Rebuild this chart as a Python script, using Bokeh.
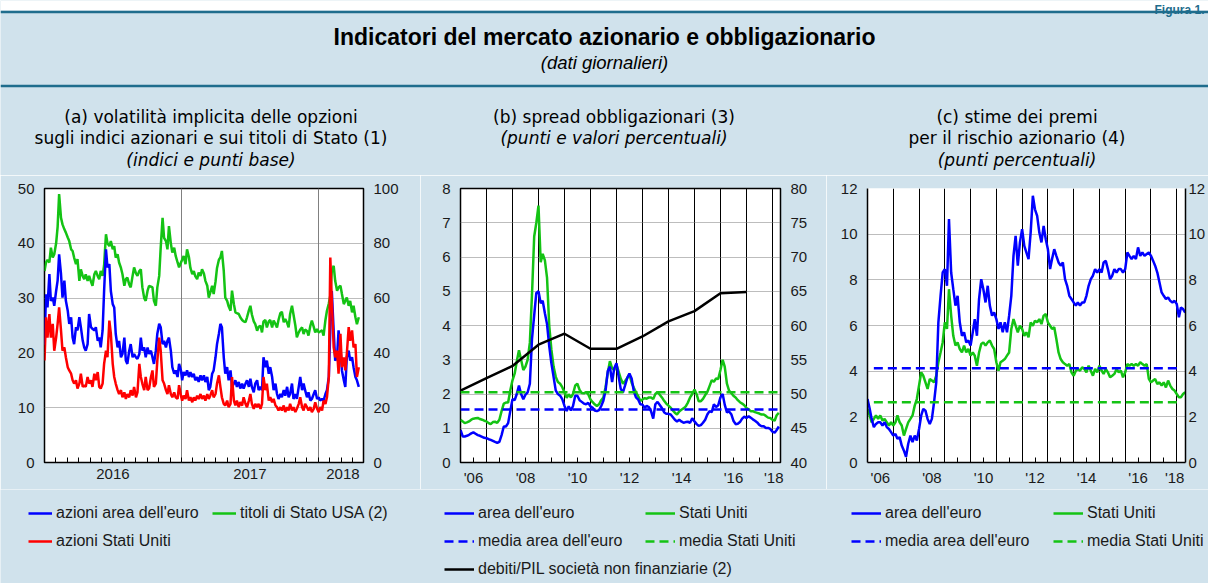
import numpy as np
import pandas as pd
from bokeh.plotting import figure
from bokeh.models import Range1d, LinearAxis, FixedTicker, Legend, LegendItem
from bokeh.layouts import column, row
from bokeh.embed import file_html
from bokeh.resources import INLINE
from bokeh.core.properties import value

# ------------------------------------------------------------------ DATA
# (a) implied volatility, Jan 2016 - Apr 2018 (regular observation grid)
a_first_day, a_last_day = "2016-01-01", "2018-04-19"
a_us_treasuries = [  # MOVE-type index, basis points (right axis)
    69.9, 73, 74, 73, 78.4, 74.8, 76, 80, 86, 98,
    89.3, 86.9, 85.1, 83.9, 82.1, 80.8, 77.8, 77.2, 74.8, 72.4,
    74.2, 66.3, 70.5, 68, 66.9, 68.7, 66.3, 68.1, 66, 64.5,
    68.7, 69.9, 68, 66.9, 69.9, 68.1, 72, 83.3, 80, 79,
    80.8, 77.8, 79, 74.8, 76, 73, 71, 68.7, 64.5, 66.9,
    67.5, 65, 63.9, 68.1, 71.2, 69, 68.1, 69.9, 70.5, 64,
    60, 59, 62.7, 64.5, 64.2, 63.9, 59, 57.2, 63.9, 68.1,
    78.4, 89.3, 82, 80.8, 77.8, 86.3, 80, 76.6, 78.4, 75.4,
    73, 71.2, 73, 74, 75.4, 72.4, 77.8, 75, 71, 68.7,
    69.9, 68, 66.9, 69.3, 68.1, 70.5, 69, 66.3, 64.5, 60.2,
    62, 64.5, 61.5, 66, 71, 74, 74.8, 77.2, 69.9, 60.2,
    59, 57, 55.4, 62.7, 57.8, 54.8, 54.5, 54.2, 53, 52,
    51.5, 51.2, 53, 55.5, 57.2, 54, 51.5, 50.5, 48.1, 49.5,
    49.9, 47.5, 51.5, 52, 49.3, 51.5, 52, 49.3, 51.8, 50.5,
    49.3, 52, 54.5, 55, 51.2, 52.4, 51, 49.3, 54.2, 57.2,
    54, 50, 45.7, 47.5, 48.5, 49.3, 46.9, 48.5, 48, 46.3,
    49.9, 51.8, 49.5, 47.5, 48.7, 47.5, 47.8, 48.2, 46.3, 52,
    55.4, 58, 61, 69.9, 71.8, 66.3, 62.7, 63.9, 64.5, 61.5,
    57.8, 59, 60.2, 57.2, 59, 54.8, 57.2, 53, 50.5, 53]
a_euro_stocks = [
    21.5, 30.7, 28.3, 34.4, 29.5, 30.1, 28.6, 31.3, 33.2, 38.0,
    34.4, 30.1, 33.2, 29.5, 27.7, 25.3, 26.5, 22.8, 21.6, 24.7,
    24.1, 26.5, 24.7, 22.2, 21.0, 20.4, 21.6, 27.1, 24.7, 24.4,
    24.1, 24.7, 22.2, 22.8, 21.0, 24.1, 31.3, 38.9, 35.6, 36.2,
    31.3, 28.9, 28.3, 23.5, 21.0, 22.2, 19.2, 19.8, 22.8, 18.6,
    18.0, 20.4, 21.6, 19.2, 19.8, 19.2, 18.9, 19.8, 22.8, 20.4,
    21.0, 19.2, 21.0, 19.8, 20.4, 19.2, 18.0, 20.4, 23.5, 25.3,
    24.7, 21.6, 22.2, 21.0, 22.2, 22.8, 20.4, 17.4, 16.2, 16.8,
    15.6, 18.0, 16.8, 15.0, 16.5, 15.9, 16.8, 15.6, 16.5, 15.6,
    16.2, 15.0, 15.6, 14.7, 15.9, 15.0, 15.9, 14.7, 15.6, 13.2,
    13.8, 16.2, 16.8, 19.2, 21.6, 23.5, 25.3, 24.7, 19.2, 16.2,
    17.4, 15.0, 16.8, 13.8, 14.4, 15.0, 13.8, 14.7, 13.5, 14.4,
    13.5, 14.4, 15.0, 13.8, 15.3, 13.8, 12.8, 14.4, 15.0, 13.2,
    13.8, 13.2, 19.2, 17.4, 18.6, 16.2, 17.4, 15.6, 13.2, 14.4,
    12.5, 11.6, 12.5, 11.9, 13.2, 12.2, 13.8, 11.9, 12.5, 14.4,
    11.6, 12.5, 11.6, 13.8, 15.6, 13.2, 14.4, 13.2, 11.9, 12.8,
    11.3, 11.6, 12.5, 13.2, 11.6, 11.9, 11.3, 11.6, 11.3, 12.5,
    13.2, 15.6, 24.1, 31.3, 24.0, 18.6, 19.2, 24.1, 21.0, 16.8,
    15.0, 13.8, 19.2, 20.4, 18.6, 19.2, 17.4, 15.6, 15.0, 13.8]
a_us_stocks = [
    18.6, 26.5, 22.8, 27.1, 22.8, 25.3, 20.4, 22.8, 25.3, 28.3,
    24.1, 20.4, 21.0, 19.2, 17.4, 16.8, 16.2, 15.0, 14.4, 15.0,
    13.5, 14.4, 16.2, 13.8, 14.1, 13.8, 15.6, 14.4, 15.0, 13.8,
    16.2, 15.0, 16.5, 13.8, 13.5, 14.4, 18.0, 20.4, 19.2, 25.9,
    23.5, 18.0, 15.6, 14.4, 13.2, 12.5, 13.2, 11.9, 12.8, 11.6,
    12.5, 11.9, 13.2, 12.2, 13.8, 11.9, 12.8, 18.0, 15.6, 14.4,
    13.2, 15.6, 13.2, 13.5, 15.6, 16.8, 13.8, 14.4, 18.6, 22.8,
    20.4, 15.0, 14.4, 13.2, 12.5, 14.1, 12.5, 11.9, 12.8, 11.9,
    11.6, 14.1, 12.2, 11.3, 12.2, 11.6, 13.2, 11.3, 11.9, 11.0,
    11.9, 11.3, 12.2, 11.6, 12.5, 11.6, 12.2, 11.3, 12.5, 11.6,
    12.2, 13.2, 11.9, 12.5, 14.4, 15.9, 13.8, 11.9, 10.7, 10.4,
    11.3, 10.1, 10.7, 15.6, 11.3, 10.4, 11.3, 10.1, 11.0, 10.4,
    11.9, 10.7, 10.1, 11.3, 12.5, 10.7, 9.8, 10.7, 10.1, 10.7,
    9.8, 10.7, 15.6, 13.2, 14.4, 11.3, 11.9, 11.0, 11.6, 10.4,
    10.1, 9.5, 10.1, 9.5, 10.4, 9.2, 10.1, 9.5, 10.7, 9.5,
    10.1, 9.2, 9.8, 10.7, 11.9, 10.1, 9.5, 10.7, 10.1, 9.5,
    10.1, 9.2, 9.8, 11.0, 9.8, 9.2, 10.1, 9.5, 11.3, 10.7,
    11.9, 15.6, 37.4, 29.5, 21.0, 19.2, 20.4, 16.2, 23.5, 17.4,
    19.2, 16.8, 19.8, 24.7, 22.2, 24.1, 21.0, 21.6, 15.6, 17.4]

# (b) bond spreads, monthly from Jan 2006
b_first_month = "2006-01-01"
b_euro = [
    0.95, 0.76, 0.76, 0.78, 0.81, 0.85, 0.88, 0.84, 0.80, 0.78,
    0.75, 0.72, 0.71, 0.68, 0.66, 0.63, 0.60, 0.57, 0.60, 0.80,
    1.05, 1.05, 1.15, 1.50, 1.85, 1.82, 2.00, 2.25, 2.00, 1.85,
    1.98, 2.05, 2.30, 3.60, 4.30, 4.95, 5.00, 4.65, 4.72, 4.36,
    4.04, 3.40, 2.90, 2.50, 2.10, 2.00, 1.95, 1.85, 1.65, 1.50,
    1.64, 1.52, 1.65, 1.95, 1.95, 1.82, 1.77, 1.72, 1.70, 1.74,
    1.64, 1.60, 1.52, 1.50, 1.53, 1.65, 1.80, 2.10, 2.67, 2.80,
    2.35, 2.75, 2.90, 2.50, 2.15, 2.05, 2.25, 2.47, 2.60, 2.45,
    2.08, 1.90, 1.84, 1.70, 1.69, 1.60, 1.65, 1.62, 1.50, 1.28,
    1.70, 1.77, 1.68, 1.59, 1.47, 1.42, 1.42, 1.40, 1.33, 1.25,
    1.20, 1.25, 1.20, 1.16, 1.18, 1.19, 1.16, 1.29, 1.20, 1.12,
    1.07, 1.09, 1.16, 1.25, 1.40, 1.50, 1.47, 1.70, 1.62, 1.67,
    1.90, 2.00, 1.69, 1.46, 1.49, 1.41, 1.22, 1.12, 1.13, 1.18,
    1.28, 1.34, 1.30, 1.35, 1.31, 1.26, 1.22, 1.17, 1.10, 1.06,
    1.06, 1.01, 1.01, 0.98, 0.90, 0.87, 0.95, 1.05]
b_us = [
    1.25, 1.20, 1.15, 1.17, 1.20, 1.25, 1.28, 1.29, 1.30, 1.27,
    1.25, 1.22, 1.20, 1.15, 1.12, 1.18, 1.19, 1.16, 1.25, 1.50,
    1.72, 1.75, 1.75, 2.10, 2.40, 2.60, 2.95, 3.28, 3.00, 2.70,
    2.80, 3.00, 3.50, 4.90, 6.60, 7.00, 7.50, 5.85, 6.09, 5.90,
    5.40, 4.00, 3.30, 2.80, 2.50, 2.35, 2.30, 2.20, 2.05, 1.89,
    1.99, 1.90, 2.00, 2.25, 2.30, 2.12, 2.03, 2.02, 2.06, 1.99,
    1.84, 1.76, 1.70, 1.65, 1.70, 1.82, 1.90, 2.20, 2.62, 2.96,
    2.75, 2.70, 2.85, 2.65, 2.45, 2.30, 2.38, 2.47, 2.57, 2.33,
    2.18, 2.05, 1.94, 1.80, 1.84, 1.88, 1.86, 1.90, 1.90, 1.85,
    2.00, 2.06, 1.98, 1.90, 1.80, 1.72, 1.66, 1.60, 1.53, 1.45,
    1.40, 1.49, 1.54, 1.58, 1.64, 1.75, 1.90, 2.00, 2.13, 1.99,
    1.79, 1.79, 1.86, 1.97, 2.06, 2.23, 2.40, 2.36, 2.45, 2.44,
    2.70, 3.00, 2.80, 2.30, 2.10, 2.03, 1.95, 1.90, 1.82, 1.76,
    1.72, 1.67, 1.59, 1.55, 1.50, 1.50, 1.47, 1.45, 1.43, 1.40,
    1.40, 1.36, 1.31, 1.30, 1.25, 1.22, 1.38, 1.45]
b_mean_euro = 1.55
b_mean_us = 2.05
b_debt_years = [2006, 2007, 2008, 2009, 2010, 2011, 2012, 2013, 2014, 2015, 2016, 2017]
b_debt_gdp = [50.5, 52.3, 54.1, 57.2, 58.8, 56.6, 56.6, 58.4, 60.6, 62.1, 64.7, 64.9]

# (c) equity risk premia, monthly from Jan 2006
c_first_month = "2006-01-01"
c_euro = [
    2.78, 2.35, 1.91, 1.55, 1.69, 1.76, 1.76, 1.62, 1.76, 1.55,
    1.47, 1.33, 1.18, 1.25, 1.04, 1.11, 0.74, 0.52, 0.25, 0.82,
    1.18, 0.89, 1.18, 0.96, 1.47, 2.06, 2.35, 2.27, 1.91, 1.69,
    1.91, 2.64, 3.51, 6.14, 7.30, 8.32, 8.47, 7.74, 10.66, 8.32,
    7.59, 6.87, 7.30, 6.14, 5.55, 5.70, 5.26, 5.34, 5.12, 5.70,
    6.28, 5.55, 7.16, 8.03, 7.59, 7.01, 7.74, 6.87, 6.43, 6.57,
    6.28, 5.85, 6.14, 5.70, 6.14, 5.70, 6.43, 7.30, 9.05, 9.93,
    8.62, 9.64, 10.22, 9.49, 9.20, 8.91, 10.07, 11.68, 11.09, 10.80,
    10.07, 9.64, 10.36, 9.78, 9.34, 8.47, 8.91, 9.34, 9.05, 8.76,
    8.62, 8.76, 8.03, 7.74, 7.30, 7.16, 7.01, 6.87, 7.01, 6.87,
    7.01, 7.01, 7.30, 7.74, 8.03, 8.18, 8.47, 8.32, 8.47, 8.32,
    8.76, 8.83, 8.47, 8.03, 8.18, 8.47, 8.32, 8.47, 8.47, 8.32,
    8.47, 9.20, 9.05, 8.91, 9.05, 8.91, 9.42, 9.05, 9.20, 9.05,
    9.13, 9.20, 9.05, 8.83, 8.62, 8.32, 7.89, 7.45, 7.30, 7.16,
    7.23, 7.08, 7.01, 7.08, 6.94, 6.36, 6.79, 6.72, 6.57]
c_us = [
    2.35, 2.06, 1.76, 1.91, 2.06, 1.91, 2.06, 1.84, 1.91, 1.76,
    1.62, 1.76, 1.62, 1.76, 2.06, 1.76, 1.62, 1.18, 1.47, 1.76,
    1.91, 2.06, 2.49, 2.78, 3.37, 3.95, 3.80, 3.51, 3.22, 3.66,
    3.59, 3.51, 3.80, 4.39, 4.82, 5.26, 6.14, 5.85, 7.59, 6.43,
    5.55, 5.12, 5.26, 4.97, 4.82, 5.12, 4.82, 4.97, 4.68, 4.82,
    4.68, 4.24, 4.82, 5.19, 5.26, 5.12, 5.26, 5.34, 5.12, 4.97,
    4.39, 4.02, 4.39, 4.46, 4.53, 4.68, 4.82, 5.85, 6.28, 5.99,
    5.70, 5.99, 5.85, 5.55, 5.70, 5.48, 6.14, 5.99, 6.21, 6.14,
    6.28, 6.06, 6.43, 6.50, 6.14, 5.99, 5.85, 5.92, 5.41, 4.82,
    4.53, 4.39, 4.31, 4.24, 4.31, 3.95, 3.80, 4.02, 4.10, 4.02,
    4.17, 4.10, 3.95, 4.24, 4.02, 3.80, 4.10, 3.95, 4.24, 4.02,
    3.88, 4.10, 3.95, 3.73, 3.80, 3.88, 4.10, 3.95, 4.02, 3.73,
    3.95, 4.31, 4.24, 4.31, 4.24, 4.31, 4.24, 4.39, 4.31, 4.24,
    4.31, 3.66, 3.51, 3.59, 3.66, 3.44, 3.51, 3.37, 3.51, 3.29,
    3.59, 3.37, 3.22, 3.15, 3.00, 2.86, 2.86, 3.00, 3.08]
c_mean_euro = 4.13
c_mean_us = 2.64
c_mean_from, c_mean_to = "2006-04-01", "2018-02-01"

# texts
figure_tag = "Figura 1."
main_title = "Indicatori del mercato azionario e obbligazionario"
main_subtitle = "(dati giornalieri)"
a_titles = ["(a) volatilità implicita delle opzioni",
            "sugli indici azionari e sui titoli di Stato (1)",
            "(indici e punti base)"]
b_titles = ["(b) spread obbligazionari (3)", "(punti e valori percentuali)"]
c_titles = ["(c) stime dei premi", "per il rischio azionario (4)", "(punti percentuali)"]
a_year_labels = ["2016", "2017", "2018"]
short_year_labels = ["'06", "'08", "'10", "'12", "'14", "'16", "'18"]


# ------------------------------------------------------------------ HELPERS
def dec_year(dates):
    d = pd.DatetimeIndex(dates)
    return np.asarray(d.year + (d.dayofyear - 1) / 365.25, dtype=float)


a_t = dec_year(pd.date_range(a_first_day, a_last_day, periods=len(a_euro_stocks)))
b_t = dec_year(pd.date_range(b_first_month, periods=len(b_euro), freq="MS"))
c_t = dec_year(pd.date_range(c_first_month, periods=len(c_euro), freq="MS"))
c_mean_t = dec_year([c_mean_from, c_mean_to])

BG = "#d0e2ec"
TEAL = "#1f6d8d"
BLUE = "#0000ff"
GREEN = "#14c314"
RED = "#ff0000"
FONT = "Liberation Sans"
TFONT = "DejaVu Sans"
LW = 2.5
DASH = "9 5"

W = 1208
HH = 175      # header height
PH = 314      # panel height
FH = 94       # footer height


def style_y(ax, standoff=10):
    ax.axis_line_color = None
    ax.major_tick_out = 0
    ax.major_tick_in = 0
    ax.minor_tick_out = 0
    ax.minor_tick_in = 0
    ax.major_tick_line_color = None
    ax.minor_tick_line_color = None
    ax.major_label_text_font = FONT
    ax.major_label_text_font_size = "15px"
    ax.major_label_text_color = "#1a1a1a"
    ax.major_label_standoff = standoff


def style_x(ax):
    style_y(ax, 6)
    ax.minor_tick_in = 5
    ax.minor_tick_line_color = "black"
    ax.minor_tick_line_width = 1


def panel(width, bl, br, xr, yr):
    p = figure(width=width, height=PH, x_range=Range1d(*xr), y_range=Range1d(*yr),
               toolbar_location=None, output_backend="svg",
               min_border_left=bl, min_border_right=br,
               min_border_top=13, min_border_bottom=27)
    p.background_fill_color = "white"
    p.border_fill_color = BG
    p.outline_line_color = "black"
    p.outline_line_width = 1.5
    style_y(p.yaxis[0])
    style_x(p.xaxis[0])
    p.ygrid[0].grid_line_color = "#7a7a7a"
    p.ygrid[0].grid_line_dash = "1 1"
    p.ygrid[0].grid_line_width = 1
    return p


# ------------------------------------------------------------------ PANEL A
pa = panel(420, 44, 57, (2016.0, 2018.33), (0, 50))
pa.yaxis[0].ticker = FixedTicker(ticks=[0, 10, 20, 30, 40, 50])
pa.extra_y_ranges = {"r": Range1d(0, 100)}
ra = LinearAxis(y_range_name="r", ticker=FixedTicker(ticks=[0, 20, 40, 60, 80, 100]))
style_y(ra)
pa.add_layout(ra, "right")
a_pos = [2016.5, 2017.5, 2018.18]
pa.xaxis[0].ticker = FixedTicker(ticks=a_pos,
                                 minor_ticks=[2016 + k / 12 for k in range(1, 28)])
pa.xaxis[0].major_label_overrides = dict(zip(a_pos, a_year_labels))
pa.xgrid[0].ticker = FixedTicker(ticks=[2017, 2018])
pa.xgrid[0].grid_line_color = "#808080"
pa.xgrid[0].grid_line_width = 1
pa.ygrid[0].ticker = FixedTicker(ticks=[10, 20, 30, 40])

pa.line(a_t, a_us_treasuries, line_color=GREEN, line_width=LW, y_range_name="r")
pa.line(a_t, a_euro_stocks, line_color=BLUE, line_width=LW)
pa.line(a_t, a_us_stocks, line_color=RED, line_width=LW)

# ------------------------------------------------------------------ PANEL B
pb = panel(406, 40, 46, (2006.0, 2018.31), (0, 8))
pb.yaxis[0].ticker = FixedTicker(ticks=list(range(0, 9)))
pb.extra_y_ranges = {"r": Range1d(40, 80)}
rb = LinearAxis(y_range_name="r", ticker=FixedTicker(ticks=list(range(40, 81, 5))))
style_y(rb)
pb.add_layout(rb, "right")
b_pos = [2006.5, 2008.5, 2010.5, 2012.5, 2014.5, 2016.5, 2018.05]
pb.xaxis[0].ticker = FixedTicker(ticks=b_pos,
                                 minor_ticks=[y + 0.5 for y in range(2006, 2018)])
pb.xaxis[0].major_label_overrides = dict(zip(b_pos, short_year_labels))
pb.xgrid[0].ticker = FixedTicker(ticks=list(range(2007, 2019)))
pb.xgrid[0].grid_line_color = "black"
pb.xgrid[0].grid_line_width = 1
pb.ygrid[0].ticker = FixedTicker(ticks=list(range(1, 8)))

pb.line(b_t, b_us, line_color=GREEN, line_width=LW)
pb.line(b_t, b_euro, line_color=BLUE, line_width=LW)
pb.line(b_debt_years, b_debt_gdp, line_color="black", line_width=LW, y_range_name="r")
pb.line([b_t[0], b_t[-1]], [b_mean_us, b_mean_us], line_color=GREEN, line_width=LW,
        line_dash=DASH)
pb.line([b_t[0], b_t[-1]], [b_mean_euro, b_mean_euro], line_color=BLUE, line_width=LW,
        line_dash=DASH)

# ------------------------------------------------------------------ PANEL C
pc = panel(382, 41, 20, (2006.0, 2018.34), (0, 12))
pc.yaxis[0].ticker = FixedTicker(ticks=list(range(0, 13, 2)))
rc = LinearAxis(ticker=FixedTicker(ticks=list(range(0, 13, 2))))
style_y(rc, 3)
pc.add_layout(rc, "right")
# frame drawn by the axis lines: the top edge is the dotted 12 gridline, as in the source
pc.outline_line_color = None
for ax in (pc.yaxis[0], pc.xaxis[0], rc):
    ax.axis_line_color = "black"
    ax.axis_line_width = 1.5
c_pos = [2006.5, 2008.5, 2010.5, 2012.5, 2014.5, 2016.5, 2017.92]
pc.xaxis[0].ticker = FixedTicker(ticks=c_pos,
                                 minor_ticks=[y + 0.5 for y in range(2006, 2018)])
pc.xaxis[0].major_label_overrides = dict(zip(c_pos, short_year_labels))
pc.xgrid[0].ticker = FixedTicker(ticks=list(range(2007, 2019)))
pc.xgrid[0].grid_line_color = "black"
pc.xgrid[0].grid_line_width = 1
pc.ygrid[0].ticker = FixedTicker(ticks=list(range(2, 13, 2)))

pc.line(c_t, c_us, line_color=GREEN, line_width=LW)
pc.line(c_t, c_euro, line_color=BLUE, line_width=LW)
pc.line(c_mean_t, [c_mean_euro, c_mean_euro], line_color=BLUE, line_width=LW, line_dash=DASH)
pc.line(c_mean_t, [c_mean_us, c_mean_us], line_color=GREEN, line_width=LW, line_dash=DASH)

# ------------------------------------------------------------------ HEADER
hdr = figure(width=W, height=HH, x_range=Range1d(0, W), y_range=Range1d(HH, 0),
             toolbar_location=None, output_backend="svg", min_border=0,
             x_axis_type=None, y_axis_type=None)
hdr.background_fill_color = BG
hdr.border_fill_color = BG
hdr.outline_line_color = None
hdr.quad(left=[0], right=[W], top=[0], bottom=[10], fill_color="white", line_color=None)
hdr.segment(x0=[0, 0], x1=[W, W], y0=[11.5, 85.5], y1=[11.5, 85.5],
            line_color=TEAL, line_width=2.5)
hdr.text(x=[1204], y=[9.5], text=[figure_tag], text_align="right",
         text_baseline="alphabetic", text_font=value(FONT), text_font_style="bold",
         text_font_size="12px", text_color=TEAL)
hdr.text(x=[W / 2], y=[36], text=[main_title], text_align="center", text_baseline="middle",
         text_font=value(FONT), text_font_style="bold", text_font_size="23px",
         text_color="black")
hdr.text(x=[W / 2], y=[62], text=[main_subtitle], text_align="center",
         text_baseline="middle", text_font=value(FONT), text_font_style="italic",
         text_font_size="18.5px", text_color="black")


def panel_titles(xc, lines):
    ys = [116, 137.5, 159]
    for i, t in enumerate(lines):
        italic = i == len(lines) - 1
        hdr.text(x=[xc], y=[ys[i]], text=[t], text_align="center", text_baseline="middle",
                 text_font=value(TFONT), text_font_size="17px", text_color="black",
                 text_font_style="italic" if italic else "normal")


panel_titles(210.5, a_titles)
panel_titles(613.5, b_titles)
panel_titles(1016.5, c_titles)

# ------------------------------------------------------------------ FOOTER (legends)
foot = figure(width=W, height=FH, x_range=Range1d(0, W), y_range=Range1d(0, FH),
              toolbar_location=None, output_backend="svg", min_border=0,
              x_axis_type=None, y_axis_type=None)
foot.background_fill_color = BG
foot.border_fill_color = BG
foot.outline_line_color = None


def key(color, dash="solid"):
    # legend key only: a single missing observation, nothing is drawn in the plot area
    return foot.line(x=[np.nan], y=[np.nan], line_color=color, line_width=LW, line_dash=dash)


def add_legend(pairs, x, y, gw):
    items = [LegendItem(label=lab, renderers=[r]) for lab, r in pairs]
    leg = Legend(items=items, location=(x, y), orientation="vertical",
                 glyph_width=gw, glyph_height=18, label_height=18, label_standoff=4,
                 spacing=10, padding=0, margin=0, background_fill_alpha=0,
                 border_line_color=None, label_text_font=FONT,
                 label_text_font_size="16px", label_text_color="#1a1a1a")
    foot.add_layout(leg, "center")


add_legend([("azioni area dell'euro", key(BLUE)), ("azioni Stati Uniti", key(RED))], 28, 33, 24)
add_legend([("titoli di Stato USA (2)", key(GREEN))], 212, 61, 24)
add_legend([("area dell'euro", key(BLUE)), ("media area dell'euro", key(BLUE, DASH)),
            ("debiti/PIL società non finanziarie (2)", key("black"))], 444, 5, 30)
add_legend([("Stati Uniti", key(GREEN)), ("media Stati Uniti", key(GREEN, DASH))], 645, 33, 30)
add_legend([("area dell'euro", key(BLUE)), ("media area dell'euro", key(BLUE, DASH))],
           851, 33, 30)
add_legend([("Stati Uniti", key(GREEN)), ("media Stati Uniti", key(GREEN, DASH))],
           1053, 33, 30)

layout = column(hdr, row(pa, pb, pc), foot)
open("out.html", "w", encoding="utf-8").write(file_html(layout, INLINE))
